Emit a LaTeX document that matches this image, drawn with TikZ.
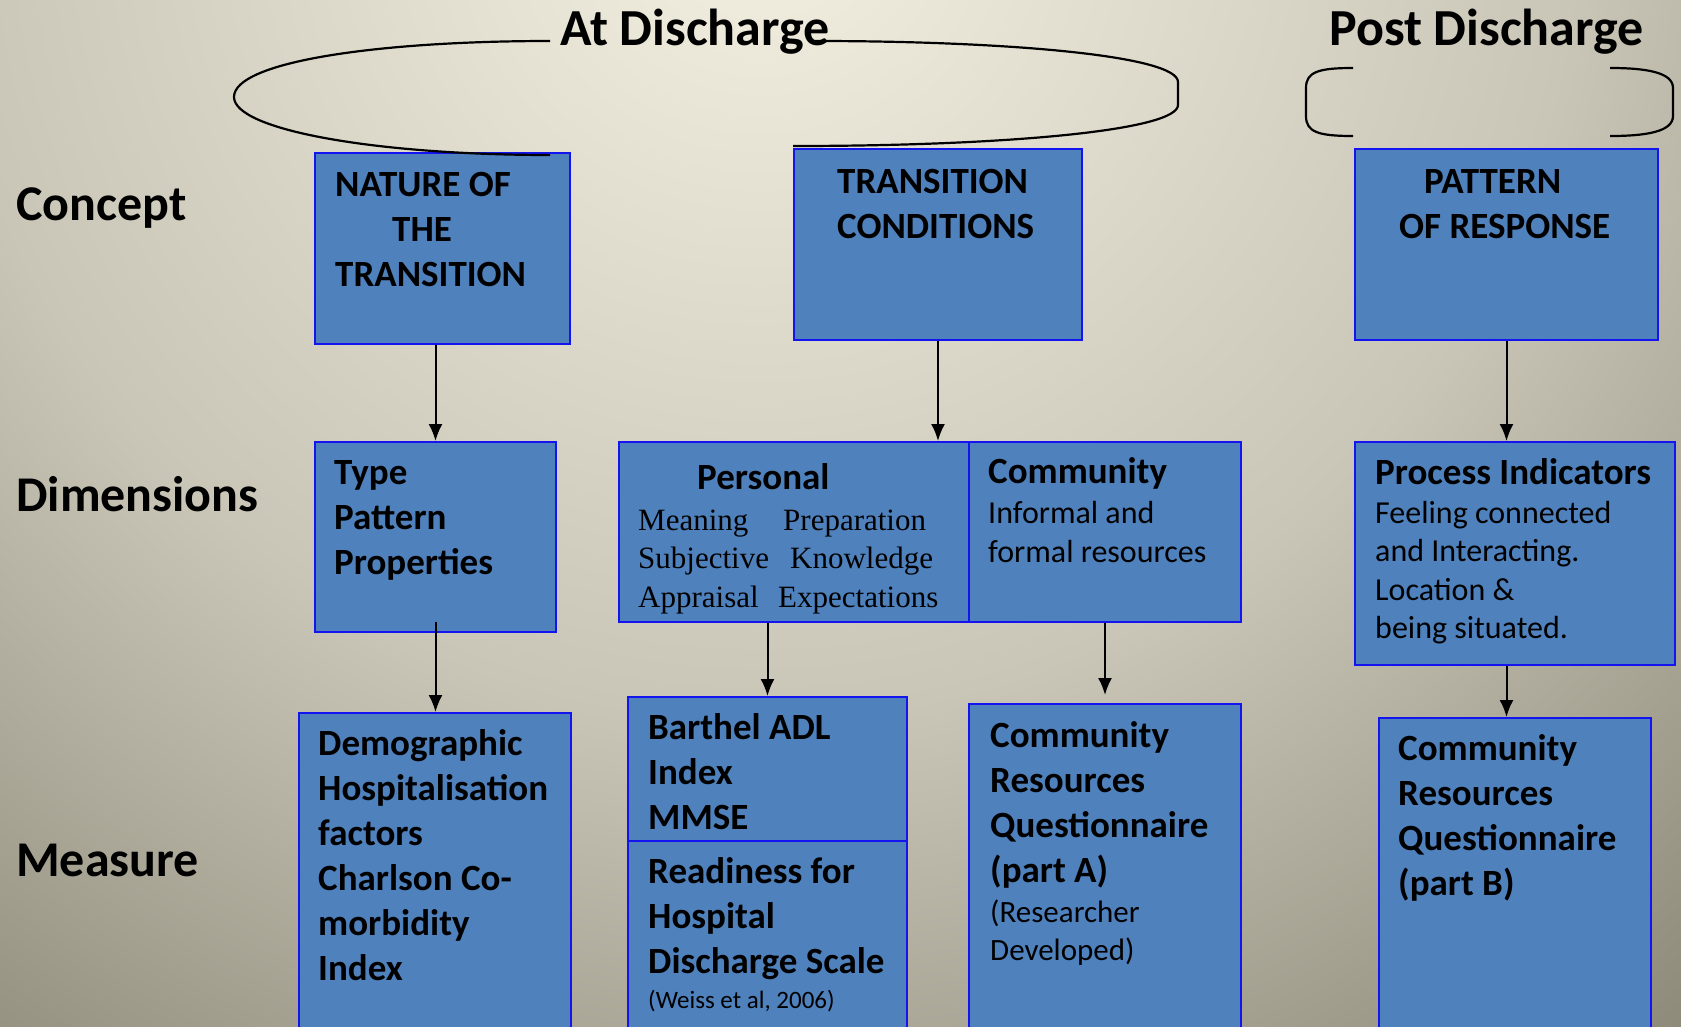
\documentclass[tikz,border=0pt]{standalone}
\usepackage{fontspec}
\setmainfont{Carlito}
\newfontfamily\serifface{Liberation Serif}
\usetikzlibrary{arrows.meta}
\definecolor{boxfill}{HTML}{4F81BD}
\definecolor{boxline}{HTML}{1414F0}
\definecolor{bgA}{HTML}{EFECDD}
\definecolor{bgB}{HTML}{C9C6B7}
\definecolor{bgC}{HTML}{979383}
\definecolor{bgD}{HTML}{8A8777}
% the path's bounding box maps onto the central 50bp square of the shading
\pgfdeclareradialshading{slidebg}{\pgfpoint{0bp}{0bp}}{color(0bp)=(bgA); color(1.5bp)=(bgA); color(13.6bp)=(bgB); color(22.6bp)=(bgC); color(25bp)=(bgD); color(50bp)=(bgD)}
\begin{document}
\begin{tikzpicture}[x=1pt,y=-1pt,
  box/.style={draw=boxline, fill=boxfill, line width=2pt, inner sep=0pt, anchor=north west},
  txt/.style={inner sep=0pt, anchor=base west, align=left},
  bold/.style={font=\bfseries\fontsize{37}{45}\selectfont},
  plain/.style={font=\fontsize{32}{39}\selectfont},
  heading/.style={inner sep=0pt, anchor=base west, font=\bfseries\fontsize{52}{60}\selectfont},
  rowlabel/.style={inner sep=0pt, anchor=base west, font=\bfseries\fontsize{50}{60}\selectfont},
  arr/.style={line width=2pt, -{Latex[length=17pt,width=14pt]}},
  loop/.style={line width=2.2pt}]
\useasboundingbox (0,0) rectangle (1681,1026);
\begin{scope}
\clip (0,0) rectangle (1681,1026);
% slide background, centred above the top edge
\shade[shading=slidebg] (-740,-1600) rectangle (2260,1400);

% concept row
\node[box, minimum width=255pt, minimum height=191pt] (nat) at (314,152) {};
\node[box, minimum width=288pt, minimum height=191pt] (trans) at (793,148) {};
\node[box, minimum width=303pt, minimum height=191pt] (pat) at (1354,148) {};

% dimensions row
\node[box, minimum width=241pt, minimum height=190pt] (type) at (314,441) {};
\node[box, minimum width=350pt, minimum height=180pt] (pers) at (618,441) {};
\node[box, minimum width=272pt, minimum height=180pt] (comm) at (968,441) {};
\node[box, minimum width=320pt, minimum height=223pt] (proc) at (1354,441) {};

% measure row
\node[box, minimum width=272pt, minimum height=340pt] (demo) at (298,712) {};
\node[box, minimum width=279pt, minimum height=144pt] (barth) at (627,696) {};
\node[box, minimum width=279pt, minimum height=210pt] (ready) at (627,840) {};
\node[box, minimum width=272pt, minimum height=340pt] (cqa) at (968,703) {};
\node[box, minimum width=272pt, minimum height=330pt] (cqb) at (1378,717) {};
\end{scope}

% time-frame headings and brackets
\node[heading] (atd) at (560,45) {At Discharge};
\node[heading] (postd) at (1329,45) {Post Discharge};
\coordinate (lA) at (550,41);
\coordinate (lB) at (550,155);
\coordinate (rA) at (815,41);
\coordinate (rB) at (793,146);
\draw[loop] (lA) .. controls (376,41) and (234,62) .. (234,97)
  .. controls (234,130) and (376,155) .. (lB);
\draw[loop] (rA) .. controls (1010,41) and (1178,56) .. (1178,82)
  -- (1178,105) .. controls (1178,130) and (1010,146) .. (rB);
\coordinate (pA) at (1353,68);
\coordinate (pB) at (1353,136);
\coordinate (qA) at (1610,68);
\coordinate (qB) at (1610,136);
\draw[loop] (pA) .. controls (1318,68) and (1306,72) .. (1306,88)
  -- (1306,116) .. controls (1306,132) and (1318,136) .. (pB);
\draw[loop] (qA) .. controls (1645,68) and (1673,72) .. (1673,88)
  -- (1673,116) .. controls (1673,132) and (1645,136) .. (qB);

% row labels
\node[rowlabel] (lc) at (16,220) {Concept};
\node[rowlabel] (ld) at (16,511) {Dimensions};
\node[rowlabel] (lm) at (16,876) {Measure};

% concept texts (anchored at the baseline of their last line)
\node[txt, bold] (natT) at (335,286) {NATURE OF\\\hspace*{57pt}THE\\TRANSITION};
\node[txt, bold] (transT) at (837,238) {TRANSITION\\CONDITIONS};
\node[txt, bold] (patT1) at (1424,193) {PATTERN};
\node[txt, bold] (patT2) at (1399,238) {OF RESPONSE};

% dimension texts
\node[txt, bold] (typeT) at (334,574) {Type\\Pattern\\Properties};
\node[txt, bold] (persH) at (697,489) {Personal};
\node[txt, font=\serifface\fontsize{31}{38.5}\selectfont] (persT) at (638,607)
  {\makebox[145pt][l]{Meaning}Preparation\\\makebox[152pt][l]{Subjective}Knowledge\\\makebox[140pt][l]{Appraisal}Expectations};
\node[txt, bold] (commH) at (988,483) {Community};
\node[txt, plain] (commT) at (988,562) {Informal and\\formal resources};
\node[txt, bold] (procH) at (1375,484) {Process Indicators};
\node[txt, font=\fontsize{32}{38.5}\selectfont] (procT) at (1375,638.5)
  {Feeling connected\\and Interacting.\\Location \&\\being situated.};

% measure texts
\node[txt, bold] (demoT) at (318,980) {Demographic\\Hospitalisation\\factors\\Charlson Co-\\morbidity\\Index};
\node[txt, bold] (barthT) at (648,829) {Barthel ADL\\Index\\MMSE};
\node[txt, bold] (readyT) at (648,973) {Readiness for\\Hospital\\Discharge Scale};
\node[txt, font=\fontsize{25}{30}\selectfont] (weissT) at (648,1008) {(Weiss et al, 2006)};
\node[txt, bold] (cqaT) at (990,882) {Community\\Resources\\Questionnaire\\(part A)};
\node[txt, font=\fontsize{31}{38}\selectfont] (cqaN) at (990,960) {(Researcher\\Developed)};
\node[txt, bold] (cqbT) at (1398,895) {Community\\Resources\\Questionnaire\\(part B)};

% connectors
\draw[arr] (type.north |- nat.south) -- (type.north);
\draw[arr] (trans.south) -- (trans.south |- pers.north);
\draw[arr] (pat.south) -- (pat.south |- proc.north);
\draw[arr] ([yshift=11pt]type.south) -- (type.south |- demo.north);
\draw[arr] (barth.north |- pers.south) -- (barth.north);
\draw[arr, shorten >=8pt] (comm.south) -- (comm.south |- cqa.north);
\draw[arr] (proc.south -| pat.south) -- (cqb.north -| pat.south);
\end{tikzpicture}
\end{document}
